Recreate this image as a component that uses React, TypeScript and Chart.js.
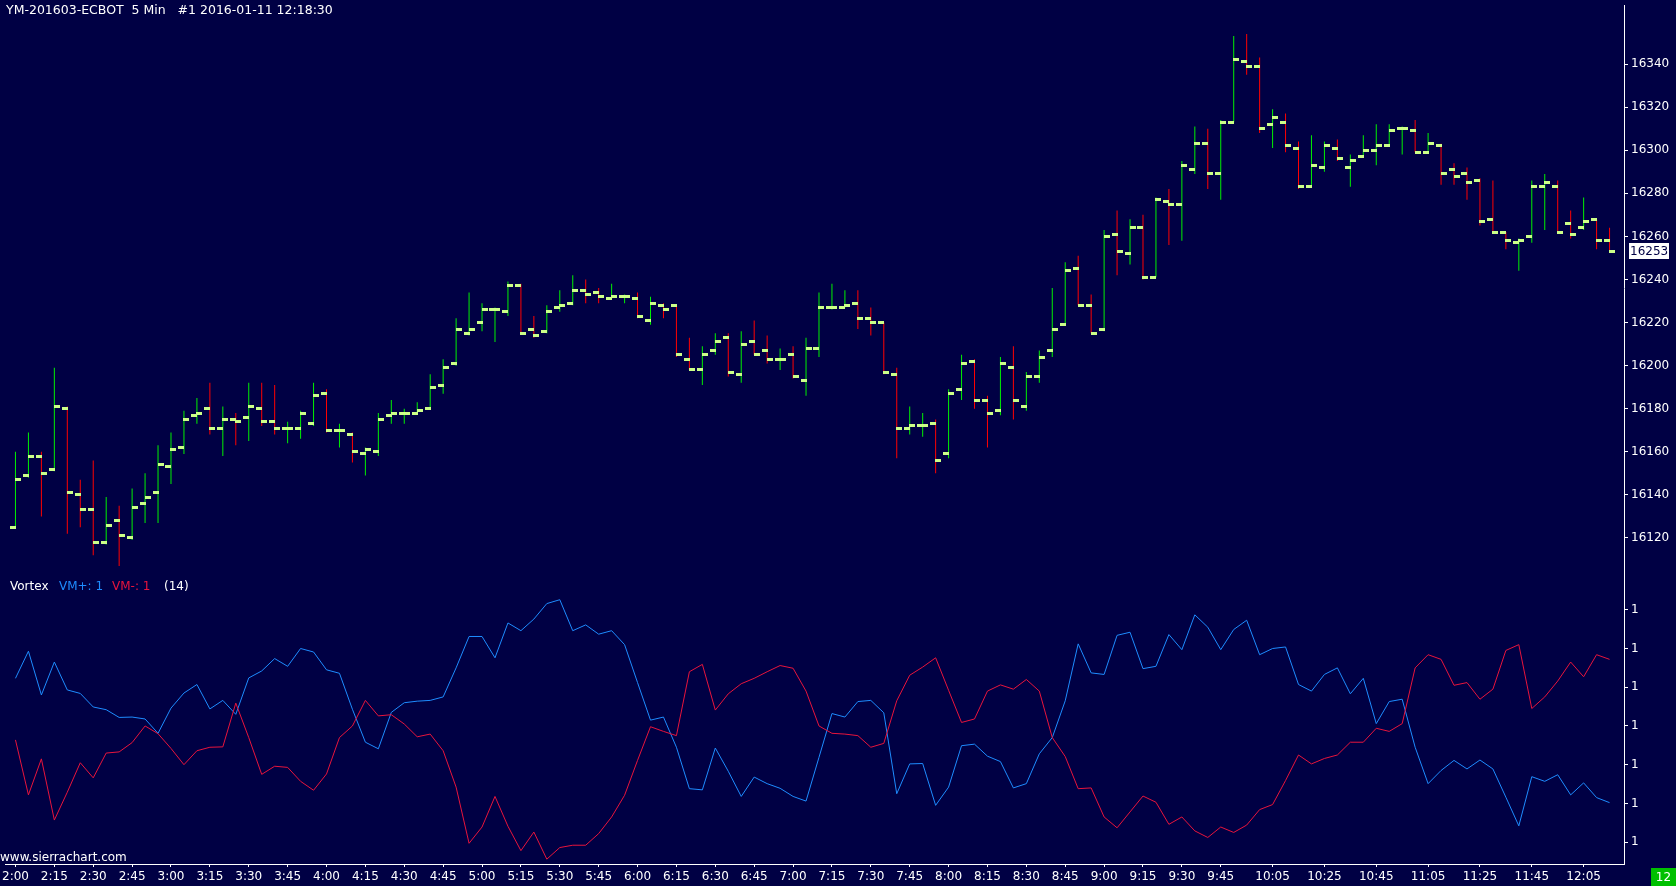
import { useEffect, useRef } from "react";
import { Chart, registerables } from "chart.js";

Chart.register(...registerables);

// ---------- text ----------
const TITLE = "YM-201603-ECBOT  5 Min   #1 2016-01-11 12:18:30";
const WEBSITE = "www.sierrachart.com";
const STUDY_NAME = "Vortex";
const VORTEX_PERIOD = 14;
const TIMER_TEXT = "12";

// ---------- time axis tick labels (5 min bars, first bar = first label) ----------
const timeTickLabels = [
  "2:00", "2:15", "2:30", "2:45", "3:00", "3:15", "3:30", "3:45", "4:00", "4:15", "4:30", "4:45",
  "5:00", "5:15", "5:30", "5:45", "6:00", "6:15", "6:30", "6:45", "7:00", "7:15", "7:30", "7:45",
  "8:00", "8:15", "8:30", "8:45", "9:00", "9:15", "9:30", "9:45", "10:05", "10:25", "10:45",
  "11:05", "11:25", "11:45", "12:05",
];
const BAR_MINUTES = 5;

// ---------- OHLC ----------
const opens = [
  16125, 16149, 16158, 16152, 16180, 16140, 16133, 16118, 16128, 16120,
  16136, 16141, 16153, 16162, 16177, 16180, 16171, 16175, 16176, 16180,
  16174, 16171, 16171, 16173, 16187, 16170, 16168, 16159, 16160, 16177,
  16178, 16178, 16180, 16191, 16201, 16215, 16220, 16226, 16225, 16237,
  16217, 16216, 16227, 16229, 16235, 16234, 16231, 16232, 16231, 16221,
  16228, 16228, 16203, 16198, 16207, 16213, 16196, 16211, 16207, 16203,
  16205, 16193, 16208, 16227, 16227, 16229, 16222, 16220, 16196, 16171,
  16172, 16173, 16159, 16189, 16202, 16184, 16179, 16199, 16181, 16195,
  16207, 16219, 16245, 16228, 16217, 16261, 16252, 16264, 16241, 16276,
  16275, 16291, 16303, 16289, 16313, 16341, 16339, 16312, 16313, 16301,
  16283, 16292, 16301, 16292, 16297, 16300, 16302, 16310, 16309, 16299,
  16302, 16291, 16289, 16286, 16268, 16262, 16257, 16260, 16283, 16283,
  16266, 16264, 16268, 16258,
];
const highs = [
  16160, 16169, 16160, 16199, 16181, 16147, 16156, 16139, 16135, 16143,
  16150, 16163, 16169, 16179, 16185, 16192, 16181, 16178, 16192, 16192,
  16191, 16174, 16179, 16192, 16189, 16173, 16169, 16162, 16178, 16184,
  16180, 16183, 16196, 16203, 16222, 16234, 16229, 16227, 16239, 16238,
  16223, 16228, 16235, 16242, 16240, 16236, 16238, 16233, 16234, 16232,
  16229, 16228, 16213, 16209, 16215, 16215, 16216, 16221, 16214, 16208,
  16209, 16213, 16234, 16238, 16235, 16235, 16227, 16220, 16199, 16181,
  16178, 16175, 16189, 16205, 16203, 16186, 16204, 16209, 16197, 16207,
  16236, 16248, 16251, 16233, 16263, 16272, 16268, 16270, 16278, 16282,
  16295, 16311, 16310, 16314, 16353, 16354, 16343, 16319, 16317, 16304,
  16307, 16304, 16305, 16298, 16307, 16312, 16312, 16311, 16314, 16308,
  16303, 16294, 16292, 16287, 16286, 16262, 16259, 16286, 16289, 16286,
  16272, 16278, 16268, 16264,
];
const lows = [
  16125, 16148, 16130, 16151, 16122, 16125, 16112, 16117, 16107, 16119,
  16127, 16127, 16145, 16159, 16173, 16168, 16158, 16163, 16165, 16172,
  16168, 16164, 16166, 16172, 16169, 16162, 16155, 16149, 16158, 16173,
  16173, 16178, 16180, 16187, 16200, 16214, 16216, 16211, 16223, 16215,
  16213, 16215, 16225, 16228, 16229, 16229, 16231, 16229, 16222, 16219,
  16222, 16204, 16198, 16191, 16205, 16195, 16192, 16205, 16201, 16198,
  16194, 16186, 16204, 16226, 16227, 16217, 16214, 16196, 16157, 16168,
  16167, 16150, 16157, 16184, 16180, 16162, 16177, 16175, 16179, 16192,
  16204, 16219, 16228, 16215, 16216, 16242, 16247, 16240, 16241, 16256,
  16258, 16289, 16282, 16277, 16313, 16335, 16308, 16301, 16299, 16282,
  16283, 16290, 16295, 16283, 16297, 16293, 16302, 16298, 16299, 16299,
  16284, 16284, 16277, 16265, 16262, 16254, 16244, 16257, 16263, 16262,
  16259, 16263, 16254, 16253,
];
const closes = [
  16147, 16158, 16150, 16181, 16141, 16133, 16118, 16126, 16121, 16134,
  16139, 16154, 16161, 16175, 16178, 16171, 16175, 16174, 16181, 16174,
  16171, 16171, 16178, 16186, 16170, 16170, 16160, 16161, 16175, 16178,
  16178, 16179, 16190, 16199, 16217, 16217, 16226, 16226, 16237, 16215,
  16214, 16225, 16228, 16235, 16233, 16232, 16232, 16232, 16223, 16229,
  16226, 16205, 16198, 16205, 16211, 16197, 16210, 16205, 16203, 16203,
  16195, 16208, 16227, 16227, 16228, 16222, 16220, 16197, 16171, 16172,
  16172, 16156, 16187, 16201, 16184, 16178, 16201, 16184, 16195, 16204,
  16217, 16244, 16228, 16215, 16260, 16253, 16264, 16241, 16277, 16275,
  16293, 16303, 16289, 16313, 16342, 16339, 16310, 16315, 16302, 16283,
  16293, 16302, 16296, 16295, 16300, 16302, 16309, 16310, 16299, 16303,
  16289, 16288, 16285, 16267, 16262, 16258, 16258, 16283, 16285, 16262,
  16261, 16267, 16258, 16253,
];

// ---------- Vortex indicator ----------
const vmPlus = [
  1.123, 1.193, 1.080, 1.165, 1.093, 1.084, 1.049, 1.042, 1.022, 1.023,
  1.018, 0.981, 1.046, 1.085, 1.107, 1.044, 1.066, 1.030, 1.124, 1.142,
  1.174, 1.154, 1.200, 1.191, 1.145, 1.136, 1.043, 0.958, 0.941, 1.035,
  1.060, 1.064, 1.066, 1.075, 1.150, 1.231, 1.231, 1.176, 1.266, 1.246,
  1.276, 1.316, 1.326, 1.246, 1.261, 1.237, 1.246, 1.210, 1.112, 1.015,
  1.023, 0.945, 0.838, 0.835, 0.943, 0.883, 0.818, 0.868, 0.851, 0.839,
  0.818, 0.806, 0.919, 1.032, 1.023, 1.063, 1.066, 1.034, 0.825, 0.902,
  0.903, 0.795, 0.842, 0.949, 0.953, 0.922, 0.908, 0.840, 0.851, 0.928,
  0.970, 1.065, 1.212, 1.137, 1.133, 1.234, 1.242, 1.148, 1.154, 1.236,
  1.197, 1.287, 1.255, 1.197, 1.249, 1.273, 1.184, 1.200, 1.204, 1.107,
  1.090, 1.133, 1.150, 1.083, 1.123, 1.006, 1.063, 1.069, 0.945, 0.851,
  0.885, 0.911, 0.889, 0.912, 0.889, 0.816, 0.742, 0.869, 0.857, 0.874,
  0.822, 0.853, 0.815, 0.802,
];
const vmMinus = [
  0.964, 0.822, 0.915, 0.757, 0.829, 0.905, 0.866, 0.930, 0.933, 0.957,
  1.000, 0.980, 0.942, 0.900, 0.936, 0.945, 0.946, 1.059, 0.970, 0.875,
  0.896, 0.893, 0.857, 0.834, 0.876, 0.970, 1.000, 1.066, 1.026, 1.029,
  1.005, 0.972, 0.979, 0.936, 0.842, 0.697, 0.739, 0.818, 0.741, 0.678,
  0.726, 0.656, 0.686, 0.692, 0.692, 0.722, 0.765, 0.821, 0.911, 0.998,
  0.986, 0.975, 1.140, 1.159, 1.041, 1.083, 1.109, 1.123, 1.140, 1.156,
  1.149, 1.090, 1.000, 0.981, 0.979, 0.975, 0.945, 0.955, 1.065, 1.131,
  1.152, 1.176, 1.092, 1.009, 1.018, 1.090, 1.106, 1.095, 1.120, 1.090,
  0.970, 0.921, 0.838, 0.840, 0.765, 0.737, 0.778, 0.819, 0.803, 0.746,
  0.765, 0.729, 0.712, 0.739, 0.725, 0.744, 0.784, 0.797, 0.859, 0.925,
  0.902, 0.916, 0.925, 0.958, 0.958, 0.994, 0.986, 1.006, 1.150, 1.184,
  1.172, 1.105, 1.112, 1.069, 1.095, 1.195, 1.210, 1.045, 1.075, 1.116,
  1.165, 1.127, 1.184, 1.172,
];

// ---------- axis tick values ----------
const priceTicks = [16120, 16140, 16160, 16180, 16200, 16220, 16240, 16260, 16280, 16300, 16320, 16340];
const vortexTicks = [0.7, 0.8, 0.9, 1.0, 1.1, 1.2, 1.3];

// ---------- styles / layout ----------
const W = 1676;
const H = 886;
const BG = "#000044";
const UP = "#00f000";
const DOWN = "#ff0000";
const TICK = "#ccff88";
const VMP_COLOR = "#1e8cff";
const VMM_COLOR = "#e8143c";
const FONT = "DejaVu Sans";

const PLOT_RIGHT = 1624;
const FIRST_BAR_PX = 10.5;
const BAR_PITCH = 13;
const X_MIN = -FIRST_BAR_PX / BAR_PITCH;
const X_MAX = X_MIN + PLOT_RIGHT / BAR_PITCH;

const PRICE_PANE = 570;
const VORTEX_PANE = 294;
const P_PX_PER_UNIT = 43.333 / 20;
const P_MAX = 16340 + 59.4 / P_PX_PER_UNIT;
const P_MIN = P_MAX - PRICE_PANE / P_PX_PER_UNIT;
const V_PX_PER_UNIT = 389.5;
const V_MAX = 1.3 + (608.3 - PRICE_PANE) / V_PX_PER_UNIT;
const V_MIN = V_MAX - VORTEX_PANE / V_PX_PER_UNIT;

function minutesOf(label: string) {
  const [h, m] = label.split(":").map(Number);
  return h * 60 + m;
}
const START_MIN = minutesOf(timeTickLabels[0]);
const tickIndex = (label: string) => (minutesOf(label) - START_MIN) / BAR_MINUTES;

function makeTickImage(side: "left" | "right") {
  const c = document.createElement("canvas");
  c.width = 11;
  c.height = 3;
  const g = c.getContext("2d")!;
  g.fillStyle = TICK;
  g.fillRect(side === "left" ? 0 : 5, 0, 6, 3);
  return c;
}

const overlayPlugin = {
  id: "overlayText",
  beforeDatasetsDraw(chart: any) {
    chart.ctx.imageSmoothingEnabled = false;
  },
  afterDraw(chart: any) {
    const ctx = chart.ctx as CanvasRenderingContext2D;
    ctx.save();
    ctx.font = `12px "${FONT}"`;
    ctx.textBaseline = "alphabetic";
    ctx.textAlign = "left";

    ctx.fillStyle = "#ffffff";
    ctx.font = `12.5px "${FONT}"`;
    ctx.fillText(TITLE, 6, 14);
    ctx.font = `12px "${FONT}"`;

    // study legend
    const ly = 590;
    ctx.fillStyle = "#ffffff";
    ctx.fillText(STUDY_NAME, 10, ly);
    ctx.fillStyle = VMP_COLOR;
    ctx.fillText(`VM+: ${Math.round(vmPlus[vmPlus.length - 1])}`, 59, ly);
    ctx.fillStyle = VMM_COLOR;
    ctx.fillText(`VM-: ${Math.round(vmMinus[vmMinus.length - 1])}`, 112, ly);
    ctx.fillStyle = "#ffffff";
    ctx.fillText(`(${VORTEX_PERIOD})`, 164, ly);

    ctx.fillText(WEBSITE, 0, 861);

    // last price marker on axis
    const yP = chart.scales.yP;
    const last = closes[closes.length - 1];
    const py = yP.getPixelForValue(last);
    ctx.fillStyle = "#ffffff";
    ctx.fillRect(yP.left + 5, Math.round(py) - 8, 40, 16);
    ctx.fillStyle = BG;
    ctx.textBaseline = "middle";
    ctx.fillText(String(last), yP.left + 6, py);

    // timer box
    ctx.fillStyle = "#00c000";
    ctx.fillRect(1651, 868, 25, 18);
    ctx.fillStyle = "#ffffff";
    ctx.textAlign = "center";
    ctx.fillText(TIMER_TEXT, 1663.5, 877.5);
    ctx.restore();
  },
};

export default function App() {
  const ref = useRef<HTMLCanvasElement | null>(null);

  useEffect(() => {
    if (!ref.current) return;
    Chart.defaults.font.family = FONT;
    const openImg = makeTickImage("left");
    const closeImg = makeTickImage("right");
    const idx = closes.map((_, i) => i);

    const axisCommon = {
      grid: { drawOnChartArea: false, color: "#ffffff", tickLength: 4, offset: false },
      border: { color: "#ffffff", width: 1 },
    };

    const chart = new Chart(ref.current, {
      type: "scatter",
      data: {
        datasets: [
          {
            type: "scatter",
            label: "open",
            data: idx.map((i) => ({ x: i, y: opens[i] })),
            yAxisID: "yP",
            xAxisID: "x",
            pointStyle: openImg as any,
            pointRadius: 3,
            order: 0,
          },
          {
            type: "scatter",
            label: "close",
            data: idx.map((i) => ({ x: i, y: closes[i] })),
            yAxisID: "yP",
            xAxisID: "x",
            pointStyle: closeImg as any,
            pointRadius: 3,
            order: 0,
          },
          {
            type: "bar",
            label: "range",
            data: idx.map((i) => ({ x: i, y: [lows[i], highs[i]] })) as any,
            yAxisID: "yP",
            xAxisID: "x",
            backgroundColor: (c: any) => (closes[c.dataIndex] >= opens[c.dataIndex] ? UP : DOWN),
            barThickness: 1,
            borderWidth: 0,
            inflateAmount: 0,
            grouped: false,
            order: 1,
          } as any,
          {
            type: "line",
            label: "VM-",
            data: idx.map((i) => ({ x: i, y: vmMinus[i] })),
            yAxisID: "yV",
            xAxisID: "x",
            borderColor: VMM_COLOR,
            borderWidth: 1,
            pointRadius: 0,
            tension: 0,
            order: 2,
          },
          {
            type: "line",
            label: "VM+",
            data: idx.map((i) => ({ x: i, y: vmPlus[i] })),
            yAxisID: "yV",
            xAxisID: "x",
            borderColor: VMP_COLOR,
            borderWidth: 1,
            pointRadius: 0,
            tension: 0,
            order: 3,
          },
        ],
      },
      options: {
        animation: false,
        responsive: false,
        layout: { padding: 0 },
        events: [],
        plugins: { legend: { display: false }, tooltip: { enabled: false }, title: { display: false } },
        scales: {
          yP: {
            type: "linear",
            position: "right",
            stack: "panes",
            stackWeight: PRICE_PANE,
            min: P_MIN,
            max: P_MAX,
            ...axisCommon,
            ticks: {
              color: "#ffffff",
              font: { family: FONT, size: 12 },
              padding: 3,
              autoSkip: false,
              callback: (v: any) => String(Math.round(Number(v))),
            },
            afterBuildTicks: (s: any) => {
              s.ticks = priceTicks.map((v) => ({ value: v }));
            },
            afterFit: (s: any) => {
              s.width = W - PLOT_RIGHT;
              s.paddingTop = 0;
              s.paddingBottom = 0;
            },
          } as any,
          yV: {
            type: "linear",
            position: "right",
            stack: "panes",
            stackWeight: VORTEX_PANE,
            min: V_MIN,
            max: V_MAX,
            ...axisCommon,
            ticks: {
              color: "#ffffff",
              font: { family: FONT, size: 12 },
              padding: 3,
              autoSkip: false,
              callback: (v: any) => String(Math.round(Number(v))),
            },
            afterBuildTicks: (s: any) => {
              s.ticks = vortexTicks.map((v) => ({ value: v }));
            },
            afterFit: (s: any) => {
              s.width = W - PLOT_RIGHT;
              s.paddingTop = 0;
              s.paddingBottom = 0;
            },
          } as any,
          x: {
            type: "linear",
            position: "bottom",
            min: X_MIN,
            max: X_MAX,
            offset: false,
            grid: { drawOnChartArea: false, color: "#ffffff", tickLength: 3, offset: false },
            border: { color: "#ffffff", width: 1 },
            ticks: {
              color: "#ffffff",
              font: { family: FONT, size: 12 },
              padding: 3,
              autoSkip: false,
              maxRotation: 0,
              minRotation: 0,
              callback: (_v: any, i: number) => timeTickLabels[i] ?? "",
            },
            afterBuildTicks: (s: any) => {
              s.ticks = timeTickLabels.map((l) => ({ value: tickIndex(l) }));
            },
            afterFit: (s: any) => {
              s.height = 22;
              s.paddingLeft = 0;
              s.paddingRight = 0;
            },
          } as any,
        },
      },
      plugins: [overlayPlugin],
    });
    return () => chart.destroy();
  }, []);

  return (
    <div style={{ position: "fixed", left: 0, top: 0, width: W, height: H, background: BG, overflow: "hidden" }}>
      <canvas ref={ref} width={W} height={H} style={{ display: "block", width: W, height: H }} />
    </div>
  );
}
